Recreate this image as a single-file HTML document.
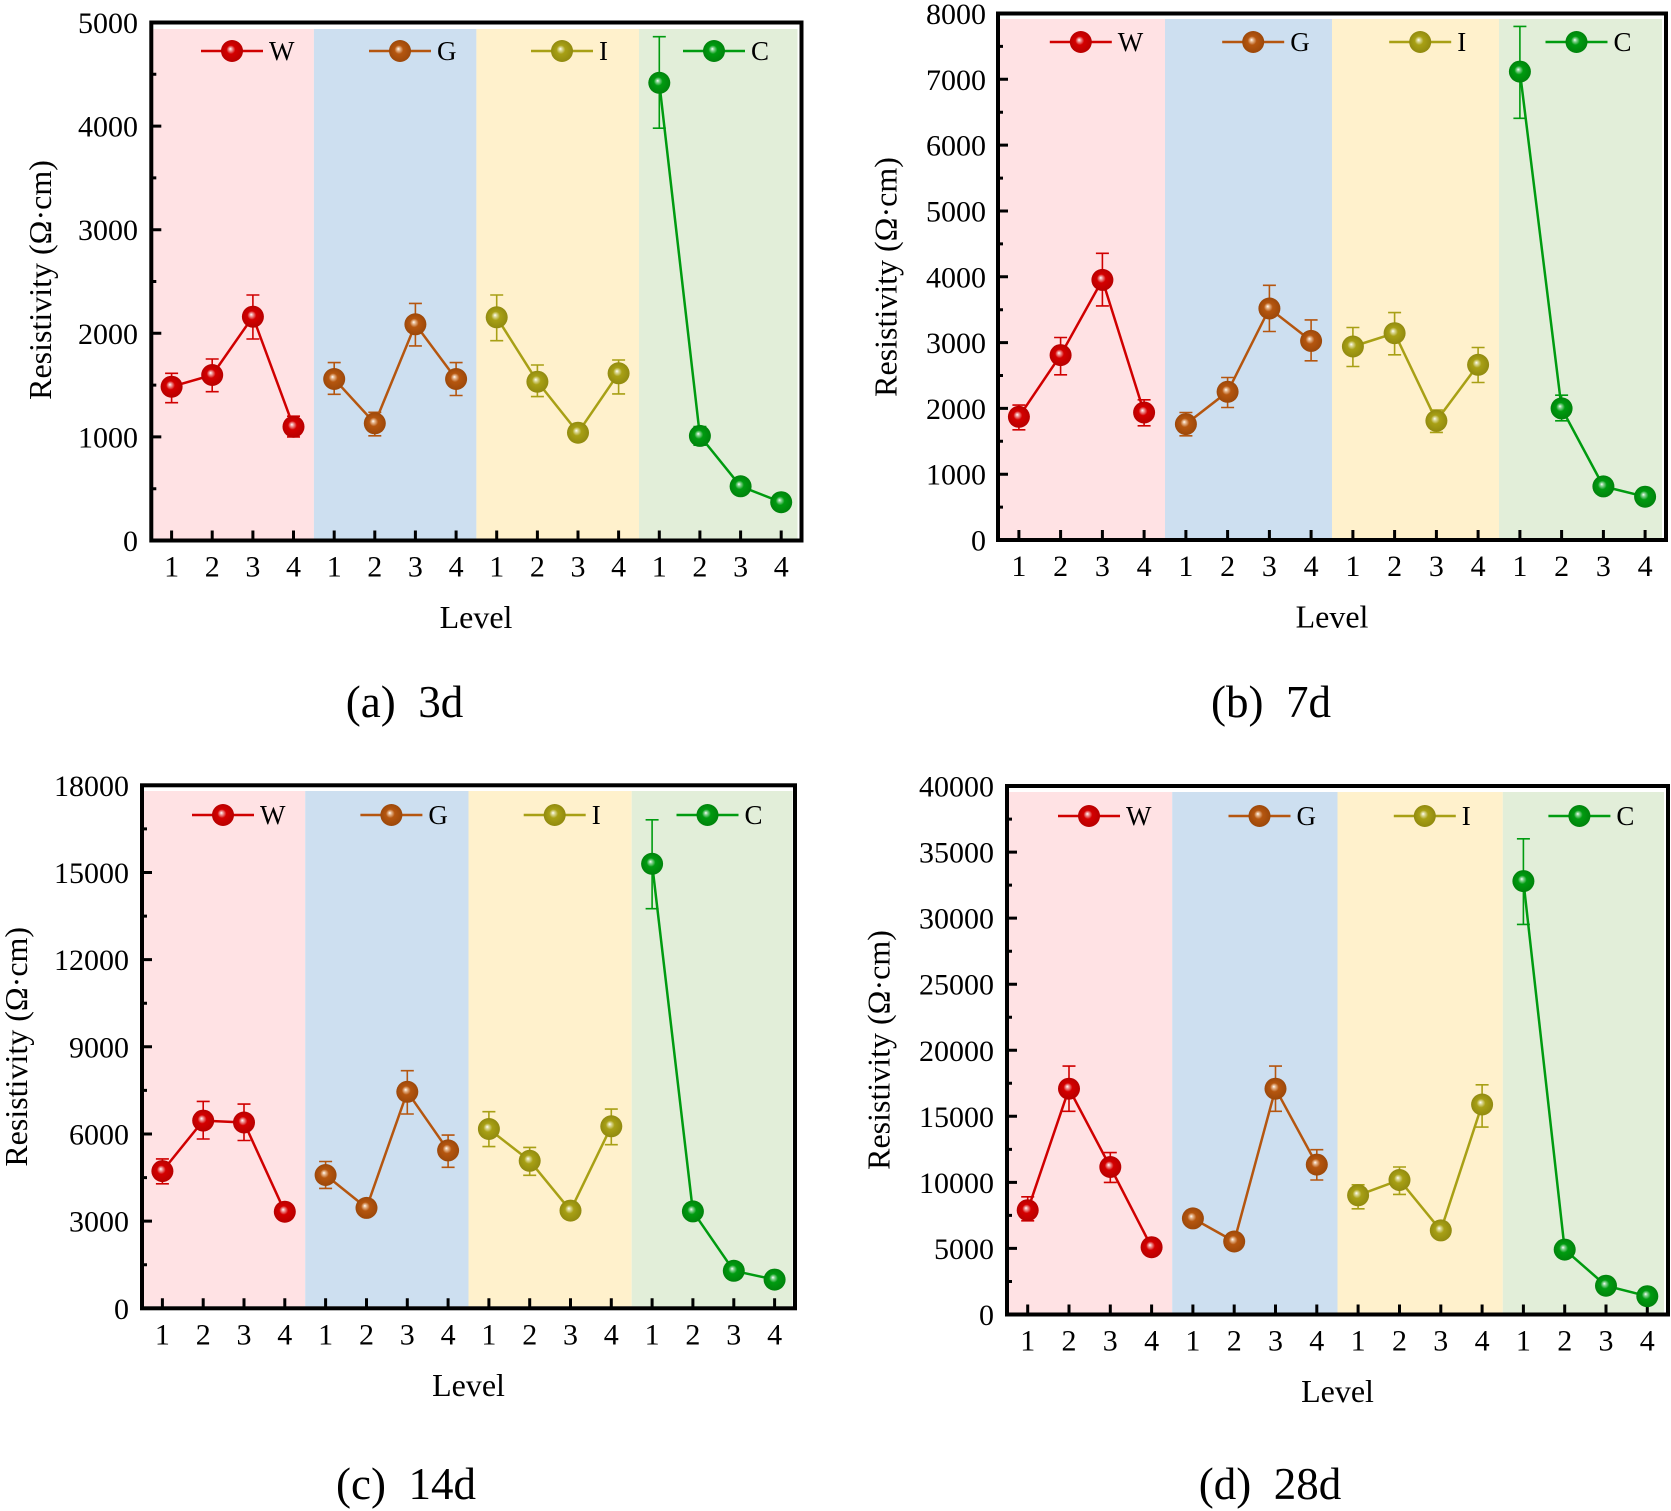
<!DOCTYPE html>
<html><head><meta charset="utf-8"><style>
html,body{margin:0;padding:0;background:#fff;}
svg{display:block;}
text{font-family:"Liberation Serif","Times New Roman",serif;fill:#000;}
.tk{stroke:#000;stroke-width:3;fill:none;}
.fr{fill:none;stroke:#000;stroke-width:4;}
.yl{font-size:30px;text-anchor:end;}
.xl{font-size:30px;text-anchor:middle;}
.lg{font-size:27px;}
.ti{font-size:32px;text-anchor:middle;}
.cap{font-size:45px;text-anchor:middle;}
.lW{stroke:#d00000;fill:none;stroke-width:2.5;}
.lG{stroke:#b5560f;fill:none;stroke-width:2.5;}
.lI{stroke:#a8a015;fill:none;stroke-width:2.5;}
.lC{stroke:#009b10;fill:none;stroke-width:2.5;}
.eW{stroke:#d00000;fill:none;stroke-width:1.6;}
.eG{stroke:#b5560f;fill:none;stroke-width:1.6;}
.eI{stroke:#a8a015;fill:none;stroke-width:1.6;}
.eC{stroke:#009b10;fill:none;stroke-width:1.6;}
circle{r:11px;}
</style></head><body>
<svg width="1671" height="1511" viewBox="0 0 1671 1511" xmlns="http://www.w3.org/2000/svg">
<defs>
<radialGradient id="gW" cx="0.5" cy="0.5" r="0.5" fx="0.42" fy="0.4"><stop offset="0" stop-color="#ffffff"/><stop offset="0.14" stop-color="#f0a0a0"/><stop offset="0.4" stop-color="#d40000"/><stop offset="1" stop-color="#b80000"/></radialGradient>
<radialGradient id="gG" cx="0.5" cy="0.5" r="0.5" fx="0.42" fy="0.4"><stop offset="0" stop-color="#ffffff"/><stop offset="0.14" stop-color="#e8bb94"/><stop offset="0.4" stop-color="#b5560f"/><stop offset="1" stop-color="#9c480a"/></radialGradient>
<radialGradient id="gI" cx="0.5" cy="0.5" r="0.5" fx="0.42" fy="0.4"><stop offset="0" stop-color="#ffffff"/><stop offset="0.14" stop-color="#dedb9c"/><stop offset="0.4" stop-color="#a8a015"/><stop offset="1" stop-color="#918a0f"/></radialGradient>
<radialGradient id="gC" cx="0.5" cy="0.5" r="0.5" fx="0.42" fy="0.4"><stop offset="0" stop-color="#ffffff"/><stop offset="0.14" stop-color="#8fd69a"/><stop offset="0.4" stop-color="#009b10"/><stop offset="1" stop-color="#00830c"/></radialGradient>
</defs>

<!-- ================= PANEL A ================= -->
<rect x="153.3" y="29" width="160.6" height="509.5" fill="#FFE2E4"/>
<rect x="313.9" y="29" width="162.5" height="509.5" fill="#CDDFF0"/>
<rect x="476.4" y="29" width="162.6" height="509.5" fill="#FFF1CC"/>
<rect x="639" y="29" width="158.5" height="509.5" fill="#E2EED9"/>
<rect class="fr" x="151.3" y="22.5" width="650.2" height="518"/>
<path class="tk" d="M151.3 436.9h10M151.3 333.3h10M151.3 229.7h10M151.3 126.1h10M151.3 488.7h5M151.3 385.1h5M151.3 281.5h5M151.3 177.9h5M151.3 74.3h5
M171.6 540.5v-10M212.2 540.5v-10M252.9 540.5v-10M293.5 540.5v-10M334.2 540.5v-10M374.8 540.5v-10M415.4 540.5v-10M456.1 540.5v-10M496.7 540.5v-10M537.4 540.5v-10M578 540.5v-10M618.6 540.5v-10M659.3 540.5v-10M699.9 540.5v-10M740.6 540.5v-10M781.2 540.5v-10"/>
<text class="yl" x="138" y="551">0</text>
<text class="yl" x="138" y="447.4">1000</text>
<text class="yl" x="138" y="343.8">2000</text>
<text class="yl" x="138" y="240.2">3000</text>
<text class="yl" x="138" y="136.6">4000</text>
<text class="yl" x="138" y="33">5000</text>
<text class="xl" x="171.6" y="576.5">1</text><text class="xl" x="212.2" y="576.5">2</text><text class="xl" x="252.9" y="576.5">3</text><text class="xl" x="293.5" y="576.5">4</text>
<text class="xl" x="334.2" y="576.5">1</text><text class="xl" x="374.8" y="576.5">2</text><text class="xl" x="415.4" y="576.5">3</text><text class="xl" x="456.1" y="576.5">4</text>
<text class="xl" x="496.7" y="576.5">1</text><text class="xl" x="537.4" y="576.5">2</text><text class="xl" x="578" y="576.5">3</text><text class="xl" x="618.6" y="576.5">4</text>
<text class="xl" x="659.3" y="576.5">1</text><text class="xl" x="699.9" y="576.5">2</text><text class="xl" x="740.6" y="576.5">3</text><text class="xl" x="781.2" y="576.5">4</text>
<path class="eW" d="M171.6 373.3V402.7M165.1 373.3h13M165.1 402.7h13M212.2 359V391.7M205.7 359h13M205.7 391.7h13M252.9 295V339M246.4 295h13M246.4 339h13M293.5 416.2V436.9M287 416.2h13M287 436.9h13"/>
<path class="eG" d="M334.2 362.6V394.3M327.7 362.6h13M327.7 394.3h13M374.8 412.3V435.8M368.3 412.3h13M368.3 435.8h13M415.4 303.4V345.9M408.9 303.4h13M408.9 345.9h13M456.1 362.6V395.5M449.6 362.6h13M449.6 395.5h13"/>
<path class="eI" d="M496.7 295V340.7M490.2 295h13M490.2 340.7h13M537.4 365V396.6M530.9 365h13M530.9 396.6h13M578 424.5V441M571.5 424.5h13M571.5 441h13M618.6 360V393.9M612.1 360h13M612.1 393.9h13"/>
<path class="eC" d="M659.3 36.7V128.2M652.8 36.7h13M652.8 128.2h13M699.9 426.5V445.2M693.4 426.5h13M693.4 445.2h13M740.6 481.4V491.3M734.1 481.4h13M734.1 491.3h13M781.2 499.1V505.3M774.7 499.1h13M774.7 505.3h13"/>
<polyline class="lW" points="171.6,386.7 212.2,375 252.9,316.7 293.5,426.7"/>
<polyline class="lG" points="334.2,379 374.8,423.3 415.4,324.3 456.1,379"/>
<polyline class="lI" points="496.7,317.3 537.4,381.7 578,432.7 618.6,373.3"/>
<polyline class="lC" points="659.3,82.8 699.9,435.9 740.6,486.3 781.2,502.2"/>
<g fill="url(#gW)"><circle cx="171.6" cy="386.7" r="11"/><circle cx="212.2" cy="375" r="11"/><circle cx="252.9" cy="316.7" r="11"/><circle cx="293.5" cy="426.7" r="11"/></g>
<g fill="url(#gG)"><circle cx="334.2" cy="379" r="11"/><circle cx="374.8" cy="423.3" r="11"/><circle cx="415.4" cy="324.3" r="11"/><circle cx="456.1" cy="379" r="11"/></g>
<g fill="url(#gI)"><circle cx="496.7" cy="317.3" r="11"/><circle cx="537.4" cy="381.7" r="11"/><circle cx="578" cy="432.7" r="11"/><circle cx="618.6" cy="373.3" r="11"/></g>
<g fill="url(#gC)"><circle cx="659.3" cy="82.8" r="11"/><circle cx="699.9" cy="435.9" r="11"/><circle cx="740.6" cy="486.3" r="11"/><circle cx="781.2" cy="502.2" r="11"/></g>
<path class="lW" d="M201 51H263"/><circle cx="232" cy="51" r="11" fill="url(#gW)"/><text class="lg" x="269" y="60">W</text>
<path class="lG" d="M369 51H431"/><circle cx="400" cy="51" r="11" fill="url(#gG)"/><text class="lg" x="437" y="60">G</text>
<path class="lI" d="M531 51H593"/><circle cx="562" cy="51" r="11" fill="url(#gI)"/><text class="lg" x="599" y="60">I</text>
<path class="lC" d="M683 51H745"/><circle cx="714" cy="51" r="11" fill="url(#gC)"/><text class="lg" x="751" y="60">C</text>
<text class="ti" transform="translate(51,280) rotate(-90)">Resistivity (Ω·cm)</text>
<text class="ti" x="476" y="628">Level</text>
<text class="cap" x="404.5" y="717">(a)&#160;&#160;3d</text>

<!-- ================= PANEL B ================= -->
<rect x="1000" y="19" width="165" height="519" fill="#FFE2E4"/>
<rect x="1165" y="19" width="167" height="519" fill="#CDDFF0"/>
<rect x="1332" y="19" width="167" height="519" fill="#FFF1CC"/>
<rect x="1499" y="19" width="163" height="519" fill="#E2EED9"/>
<rect class="fr" x="998" y="13.5" width="668" height="526.5"/>
<path class="tk" d="M998 474.2h10M998 408.4h10M998 342.6h10M998 276.8h10M998 211h10M998 145.1h10M998 79.3h10M998 507.1h5M998 441.3h5M998 375.5h5M998 309.7h5M998 243.9h5M998 178.1h5M998 112.2h5M998 46.4h5
M1018.9 540v-10M1060.6 540v-10M1102.4 540v-10M1144.1 540v-10M1185.9 540v-10M1227.6 540v-10M1269.4 540v-10M1311.1 540v-10M1352.9 540v-10M1394.6 540v-10M1436.4 540v-10M1478.1 540v-10M1519.9 540v-10M1561.6 540v-10M1603.4 540v-10M1645.1 540v-10"/>
<text class="yl" x="986" y="550.5">0</text>
<text class="yl" x="986" y="484.7">1000</text>
<text class="yl" x="986" y="418.9">2000</text>
<text class="yl" x="986" y="353.1">3000</text>
<text class="yl" x="986" y="287.3">4000</text>
<text class="yl" x="986" y="221.5">5000</text>
<text class="yl" x="986" y="155.6">6000</text>
<text class="yl" x="986" y="89.8">7000</text>
<text class="yl" x="986" y="24">8000</text>
<text class="xl" x="1018.9" y="576">1</text><text class="xl" x="1060.6" y="576">2</text><text class="xl" x="1102.4" y="576">3</text><text class="xl" x="1144.1" y="576">4</text>
<text class="xl" x="1185.9" y="576">1</text><text class="xl" x="1227.6" y="576">2</text><text class="xl" x="1269.4" y="576">3</text><text class="xl" x="1311.1" y="576">4</text>
<text class="xl" x="1352.9" y="576">1</text><text class="xl" x="1394.6" y="576">2</text><text class="xl" x="1436.4" y="576">3</text><text class="xl" x="1478.1" y="576">4</text>
<text class="xl" x="1519.9" y="576">1</text><text class="xl" x="1561.6" y="576">2</text><text class="xl" x="1603.4" y="576">3</text><text class="xl" x="1645.1" y="576">4</text>
<path class="eW" d="M1018.9 405.1V429.8M1012.4 405.1h13M1012.4 429.8h13M1060.6 337.5V374.8M1054.1 337.5h13M1054.1 374.8h13M1102.4 253.3V305.9M1095.9 253.3h13M1095.9 305.9h13M1144.1 399.8V425.8M1137.6 399.8h13M1137.6 425.8h13"/>
<path class="eG" d="M1185.9 412.5V435.8M1179.4 412.5h13M1179.4 435.8h13M1227.6 377.5V407.5M1221.1 377.5h13M1221.1 407.5h13M1269.4 285.3V331.5M1262.9 285.3h13M1262.9 331.5h13M1311.1 319.9V360.8M1304.6 319.9h13M1304.6 360.8h13"/>
<path class="eI" d="M1352.9 327.5V366.5M1346.4 327.5h13M1346.4 366.5h13M1394.6 312.6V354.8M1388.1 312.6h13M1388.1 354.8h13M1436.4 410.1V432.4M1429.9 410.1h13M1429.9 432.4h13M1478.1 347.5V382.5M1471.6 347.5h13M1471.6 382.5h13"/>
<path class="eC" d="M1519.9 26.4V118.3M1513.4 26.4h13M1513.4 118.3h13M1561.6 395.2V420.8M1555.1 395.2h13M1555.1 420.8h13M1603.4 482.1V490.6M1596.9 482.1h13M1596.9 490.6h13M1645.1 493.9V499.9M1638.6 493.9h13M1638.6 499.9h13"/>
<polyline class="lW" points="1018.9,416.8 1060.6,355.1 1102.4,279.9 1144.1,412.5"/>
<polyline class="lG" points="1185.9,424.1 1227.6,391.8 1269.4,308.5 1311.1,340.9"/>
<polyline class="lI" points="1352.9,346.5 1394.6,333.2 1436.4,420.8 1478.1,364.8"/>
<polyline class="lC" points="1519.9,71.6 1561.6,408.4 1603.4,486.4 1645.1,496.7"/>
<g fill="url(#gW)"><circle cx="1018.9" cy="416.8" r="11"/><circle cx="1060.6" cy="355.1" r="11"/><circle cx="1102.4" cy="279.9" r="11"/><circle cx="1144.1" cy="412.5" r="11"/></g>
<g fill="url(#gG)"><circle cx="1185.9" cy="424.1" r="11"/><circle cx="1227.6" cy="391.8" r="11"/><circle cx="1269.4" cy="308.5" r="11"/><circle cx="1311.1" cy="340.9" r="11"/></g>
<g fill="url(#gI)"><circle cx="1352.9" cy="346.5" r="11"/><circle cx="1394.6" cy="333.2" r="11"/><circle cx="1436.4" cy="420.8" r="11"/><circle cx="1478.1" cy="364.8" r="11"/></g>
<g fill="url(#gC)"><circle cx="1519.9" cy="71.6" r="11"/><circle cx="1561.6" cy="408.4" r="11"/><circle cx="1603.4" cy="486.4" r="11"/><circle cx="1645.1" cy="496.7" r="11"/></g>
<path class="lW" d="M1049.8 42H1111.8"/><circle cx="1080.8" cy="42" r="11" fill="url(#gW)"/><text class="lg" x="1117.8" y="51">W</text>
<path class="lG" d="M1222.2 42H1284.2"/><circle cx="1253.2" cy="42" r="11" fill="url(#gG)"/><text class="lg" x="1290.2" y="51">G</text>
<path class="lI" d="M1389.2 42H1451.2"/><circle cx="1420.2" cy="42" r="11" fill="url(#gI)"/><text class="lg" x="1457.2" y="51">I</text>
<path class="lC" d="M1545.5 42H1607.5"/><circle cx="1576.5" cy="42" r="11" fill="url(#gC)"/><text class="lg" x="1613.5" y="51">C</text>
<text class="ti" transform="translate(896.5,277) rotate(-90)">Resistivity (Ω·cm)</text>
<text class="ti" x="1332" y="627.5">Level</text>
<text class="cap" x="1271" y="717">(b)&#160;&#160;7d</text>

<!-- ================= PANEL C ================= -->
<rect x="144" y="791" width="161.2" height="515.3" fill="#FFE2E4"/>
<rect x="305.2" y="791" width="163.3" height="515.3" fill="#CDDFF0"/>
<rect x="468.5" y="791" width="163.2" height="515.3" fill="#FFF1CC"/>
<rect x="631.7" y="791" width="160.8" height="515.3" fill="#E2EED9"/>
<rect class="fr" x="142" y="785.3" width="653" height="523"/>
<path class="tk" d="M142 1221.1h10M142 1134h10M142 1046.8h10M142 959.6h10M142 872.5h10M142 1264.7h5M142 1177.6h5M142 1090.4h5M142 1003.2h5M142 916.1h5M142 828.9h5
M162.4 1308.3v-10M203.2 1308.3v-10M244 1308.3v-10M284.8 1308.3v-10M325.6 1308.3v-10M366.5 1308.3v-10M407.3 1308.3v-10M448.1 1308.3v-10M488.9 1308.3v-10M529.7 1308.3v-10M570.5 1308.3v-10M611.3 1308.3v-10M652.1 1308.3v-10M692.9 1308.3v-10M733.8 1308.3v-10M774.6 1308.3v-10"/>
<text class="yl" x="129" y="1318.8">0</text>
<text class="yl" x="129" y="1231.6">3000</text>
<text class="yl" x="129" y="1144.5">6000</text>
<text class="yl" x="129" y="1057.3">9000</text>
<text class="yl" x="129" y="970.1">12000</text>
<text class="yl" x="129" y="883">15000</text>
<text class="yl" x="129" y="795.8">18000</text>
<text class="xl" x="162.4" y="1344.3">1</text><text class="xl" x="203.2" y="1344.3">2</text><text class="xl" x="244" y="1344.3">3</text><text class="xl" x="284.8" y="1344.3">4</text>
<text class="xl" x="325.6" y="1344.3">1</text><text class="xl" x="366.5" y="1344.3">2</text><text class="xl" x="407.3" y="1344.3">3</text><text class="xl" x="448.1" y="1344.3">4</text>
<text class="xl" x="488.9" y="1344.3">1</text><text class="xl" x="529.7" y="1344.3">2</text><text class="xl" x="570.5" y="1344.3">3</text><text class="xl" x="611.3" y="1344.3">4</text>
<text class="xl" x="652.1" y="1344.3">1</text><text class="xl" x="692.9" y="1344.3">2</text><text class="xl" x="733.8" y="1344.3">3</text><text class="xl" x="774.6" y="1344.3">4</text>
<path class="eW" d="M162.4 1158.9V1183.8M155.9 1158.9h13M155.9 1183.8h13M203.2 1101.4V1139M196.7 1101.4h13M196.7 1139h13M244 1104.1V1140.5M237.5 1104.1h13M237.5 1140.5h13M284.8 1206.6V1216.8M278.3 1206.6h13M278.3 1216.8h13"/>
<path class="eG" d="M325.6 1161.5V1188.4M319.1 1161.5h13M319.1 1188.4h13M366.5 1200.8V1213.9M360 1200.8h13M360 1213.9h13M407.3 1070.7V1114M400.8 1070.7h13M400.8 1114h13M448.1 1135.1V1167.3M441.6 1135.1h13M441.6 1167.3h13"/>
<path class="eI" d="M488.9 1111.7V1146.6M482.4 1111.7h13M482.4 1146.6h13M529.7 1147.4V1175.3M523.2 1147.4h13M523.2 1175.3h13M570.5 1205.1V1215.3M564 1205.1h13M564 1215.3h13M611.3 1109.1V1144.7M604.8 1109.1h13M604.8 1144.7h13"/>
<path class="eC" d="M652.1 819.8V908.7M645.6 819.8h13M645.6 908.7h13M692.9 1206.6V1216.8M686.4 1206.6h13M686.4 1216.8h13M733.8 1267.6V1273.4M727.3 1267.6h13M727.3 1273.4h13M774.6 1277.8V1281.3M768.1 1277.8h13M768.1 1281.3h13"/>
<polyline class="lW" points="162.4,1171.1 203.2,1120.6 244,1122.5 284.8,1211.7"/>
<polyline class="lG" points="325.6,1175 366.5,1207.9 407.3,1091.8 448.1,1150.4"/>
<polyline class="lI" points="488.9,1129 529.7,1160.8 570.5,1210.6 611.3,1126.3"/>
<polyline class="lC" points="652.1,863.8 692.9,1211.4 733.8,1270.8 774.6,1279.6"/>
<g fill="url(#gW)"><circle cx="162.4" cy="1171.1" r="11"/><circle cx="203.2" cy="1120.6" r="11"/><circle cx="244" cy="1122.5" r="11"/><circle cx="284.8" cy="1211.7" r="11"/></g>
<g fill="url(#gG)"><circle cx="325.6" cy="1175" r="11"/><circle cx="366.5" cy="1207.9" r="11"/><circle cx="407.3" cy="1091.8" r="11"/><circle cx="448.1" cy="1150.4" r="11"/></g>
<g fill="url(#gI)"><circle cx="488.9" cy="1129" r="11"/><circle cx="529.7" cy="1160.8" r="11"/><circle cx="570.5" cy="1210.6" r="11"/><circle cx="611.3" cy="1126.3" r="11"/></g>
<g fill="url(#gC)"><circle cx="652.1" cy="863.8" r="11"/><circle cx="692.9" cy="1211.4" r="11"/><circle cx="733.8" cy="1270.8" r="11"/><circle cx="774.6" cy="1279.6" r="11"/></g>
<path class="lW" d="M192 815H254"/><circle cx="223" cy="815" r="11" fill="url(#gW)"/><text class="lg" x="260" y="824">W</text>
<path class="lG" d="M360.4 815H422.4"/><circle cx="391.4" cy="815" r="11" fill="url(#gG)"/><text class="lg" x="428.4" y="824">G</text>
<path class="lI" d="M523.7 815H585.7"/><circle cx="554.7" cy="815" r="11" fill="url(#gI)"/><text class="lg" x="591.7" y="824">I</text>
<path class="lC" d="M676.5 815H738.5"/><circle cx="707.5" cy="815" r="11" fill="url(#gC)"/><text class="lg" x="744.5" y="824">C</text>
<text class="ti" transform="translate(27,1046.8) rotate(-90)">Resistivity (Ω·cm)</text>
<text class="ti" x="468.5" y="1396">Level</text>
<text class="cap" x="406" y="1499">(c)&#160;&#160;14d</text>

<!-- ================= PANEL D ================= -->
<rect x="1009" y="792" width="163.2" height="520.5" fill="#FFE2E4"/>
<rect x="1172.2" y="792" width="165.3" height="520.5" fill="#CDDFF0"/>
<rect x="1337.5" y="792" width="165.3" height="520.5" fill="#FFF1CC"/>
<rect x="1502.8" y="792" width="161.2" height="520.5" fill="#E2EED9"/>
<rect class="fr" x="1007" y="786" width="661" height="528.5"/>
<path class="tk" d="M1007 1248.4h10M1007 1182.4h10M1007 1116.3h10M1007 1050.3h10M1007 984.2h10M1007 918.1h10M1007 852.1h10M1007 1281.5h5M1007 1215.4h5M1007 1149.4h5M1007 1083.3h5M1007 1017.3h5M1007 951.2h5M1007 885.1h5M1007 819.1h5
M1027.7 1314.5v-10M1069 1314.5v-10M1110.3 1314.5v-10M1151.6 1314.5v-10M1192.9 1314.5v-10M1234.2 1314.5v-10M1275.5 1314.5v-10M1316.8 1314.5v-10M1358.1 1314.5v-10M1399.5 1314.5v-10M1440.8 1314.5v-10M1482.1 1314.5v-10M1523.4 1314.5v-10M1564.7 1314.5v-10M1606 1314.5v-10M1647.3 1314.5v-10"/>
<text class="yl" x="994" y="1325">0</text>
<text class="yl" x="994" y="1258.9">5000</text>
<text class="yl" x="994" y="1192.9">10000</text>
<text class="yl" x="994" y="1126.8">15000</text>
<text class="yl" x="994" y="1060.8">20000</text>
<text class="yl" x="994" y="994.7">25000</text>
<text class="yl" x="994" y="928.6">30000</text>
<text class="yl" x="994" y="862.6">35000</text>
<text class="yl" x="994" y="796.5">40000</text>
<text class="xl" x="1027.7" y="1350.5">1</text><text class="xl" x="1069" y="1350.5">2</text><text class="xl" x="1110.3" y="1350.5">3</text><text class="xl" x="1151.6" y="1350.5">4</text>
<text class="xl" x="1192.9" y="1350.5">1</text><text class="xl" x="1234.2" y="1350.5">2</text><text class="xl" x="1275.5" y="1350.5">3</text><text class="xl" x="1316.8" y="1350.5">4</text>
<text class="xl" x="1358.1" y="1350.5">1</text><text class="xl" x="1399.5" y="1350.5">2</text><text class="xl" x="1440.8" y="1350.5">3</text><text class="xl" x="1482.1" y="1350.5">4</text>
<text class="xl" x="1523.4" y="1350.5">1</text><text class="xl" x="1564.7" y="1350.5">2</text><text class="xl" x="1606" y="1350.5">3</text><text class="xl" x="1647.3" y="1350.5">4</text>
<path class="eW" d="M1027.7 1196.8V1220.8M1021.2 1196.8h13M1021.2 1220.8h13M1069 1066.1V1111.3M1062.5 1066.1h13M1062.5 1111.3h13M1110.3 1152.6V1182.4M1103.8 1152.6h13M1103.8 1182.4h13M1151.6 1241.8V1252.4M1145.1 1241.8h13M1145.1 1252.4h13"/>
<path class="eG" d="M1192.9 1211.4V1224.7M1186.4 1211.4h13M1186.4 1224.7h13M1234.2 1236.5V1245.8M1227.7 1236.5h13M1227.7 1245.8h13M1275.5 1066.1V1111.3M1269 1066.1h13M1269 1111.3h13M1316.8 1149.7V1180M1310.3 1149.7h13M1310.3 1180h13"/>
<path class="eI" d="M1358.1 1184.8V1208.8M1351.6 1184.8h13M1351.6 1208.8h13M1399.5 1167V1194.4M1393 1167h13M1393 1194.4h13M1440.8 1224.7V1236.5M1434.3 1224.7h13M1434.3 1236.5h13M1482.1 1084.8V1127.1M1475.6 1084.8h13M1475.6 1127.1h13"/>
<path class="eC" d="M1523.4 838.8V924.4M1516.9 838.8h13M1516.9 924.4h13M1564.7 1244.5V1255M1558.2 1244.5h13M1558.2 1255h13M1606 1282.8V1288.7M1599.5 1282.8h13M1599.5 1288.7h13M1647.3 1294.7V1298M1640.8 1294.7h13M1640.8 1298h13"/>
<polyline class="lW" points="1027.7,1210.2 1069,1088.7 1110.3,1167 1151.6,1247.2"/>
<polyline class="lG" points="1192.9,1218.4 1234.2,1241.5 1275.5,1088.7 1316.8,1164.6"/>
<polyline class="lI" points="1358.1,1195.3 1399.5,1180 1440.8,1230.4 1482.1,1104.5"/>
<polyline class="lC" points="1523.4,881.1 1564.7,1249.6 1606,1285.7 1647.3,1296.2"/>
<g fill="url(#gW)"><circle cx="1027.7" cy="1210.2" r="11"/><circle cx="1069" cy="1088.7" r="11"/><circle cx="1110.3" cy="1167" r="11"/><circle cx="1151.6" cy="1247.2" r="11"/></g>
<g fill="url(#gG)"><circle cx="1192.9" cy="1218.4" r="11"/><circle cx="1234.2" cy="1241.5" r="11"/><circle cx="1275.5" cy="1088.7" r="11"/><circle cx="1316.8" cy="1164.6" r="11"/></g>
<g fill="url(#gI)"><circle cx="1358.1" cy="1195.3" r="11"/><circle cx="1399.5" cy="1180" r="11"/><circle cx="1440.8" cy="1230.4" r="11"/><circle cx="1482.1" cy="1104.5" r="11"/></g>
<g fill="url(#gC)"><circle cx="1523.4" cy="881.1" r="11"/><circle cx="1564.7" cy="1249.6" r="11"/><circle cx="1606" cy="1285.7" r="11"/><circle cx="1647.3" cy="1296.2" r="11"/></g>
<path class="lW" d="M1058 816H1120"/><circle cx="1089" cy="816" r="11" fill="url(#gW)"/><text class="lg" x="1126" y="825">W</text>
<path class="lG" d="M1228.5 816H1290.5"/><circle cx="1259.5" cy="816" r="11" fill="url(#gG)"/><text class="lg" x="1296.5" y="825">G</text>
<path class="lI" d="M1393.8 816H1455.8"/><circle cx="1424.8" cy="816" r="11" fill="url(#gI)"/><text class="lg" x="1461.8" y="825">I</text>
<path class="lC" d="M1548.4 816H1610.4"/><circle cx="1579.4" cy="816" r="11" fill="url(#gC)"/><text class="lg" x="1616.4" y="825">C</text>
<text class="ti" transform="translate(889.5,1050) rotate(-90)">Resistivity (Ω·cm)</text>
<text class="ti" x="1337.5" y="1402">Level</text>
<text class="cap" x="1270" y="1499">(d)&#160;&#160;28d</text>
</svg>
</body></html>
